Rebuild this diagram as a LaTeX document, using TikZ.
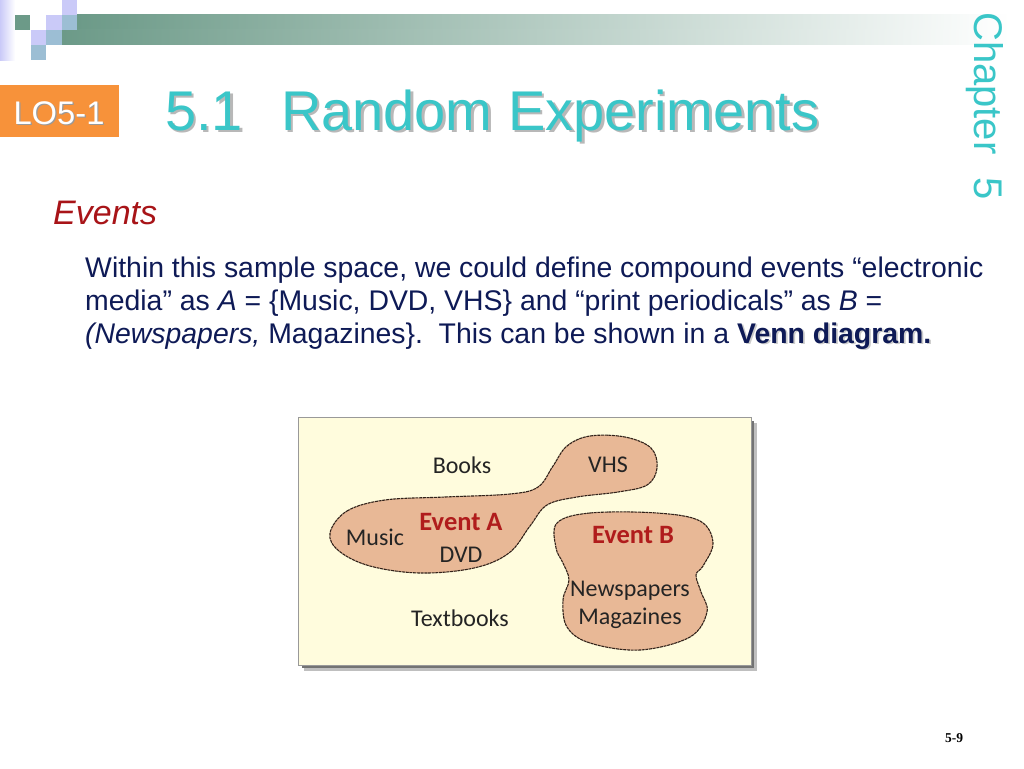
\documentclass[tikz,border=0pt]{standalone}
\usepackage{fontspec}
\setmainfont{Liberation Sans}
\newfontfamily\vennfont{Carlito}
\newfontfamily\pagefont{Liberation Serif}
\usepackage{xcolor}
\usetikzlibrary{positioning}

\definecolor{slideteal}{RGB}{58,198,200}
\definecolor{slidenavy}{RGB}{14,26,86}
\definecolor{slidered}{RGB}{168,20,24}
\definecolor{loorange}{RGB}{247,146,58}
\definecolor{sqgreen}{RGB}{108,154,136}
\definecolor{sqlilac}{RGB}{202,202,248}
\definecolor{sqblue}{RGB}{156,190,212}
\definecolor{venncream}{RGB}{255,252,221}
\definecolor{blobfill}{RGB}{232,184,150}
\definecolor{blobline}{RGB}{50,34,26}
\definecolor{eventred}{RGB}{176,28,28}
\definecolor{labelgray}{RGB}{36,36,36}

\begin{document}
\begin{tikzpicture}[x=1pt, y=-1pt,
  titletext/.style={anchor=base west, inner sep=0pt, font=\fontsize{56}{60}\selectfont},
  bodytext/.style={anchor=base west, inner sep=0pt, text=slidenavy, font=\fontsize{28.4}{33}\selectfont},
  blob/.style={fill=blobfill, draw=blobline, line width=1.1pt, dash pattern=on 3pt off 0.7pt},
  item/.style={inner sep=0pt, text=labelgray, font=\vennfont\fontsize{24}{26}\selectfont},
  eventlabel/.style={inner sep=0pt, text=eventred, font=\vennfont\bfseries\fontsize{26.5}{28}\selectfont}
]
\useasboundingbox (0,0) rectangle (1024,768);
\fill[white] (0,0) rectangle (1024,768);

% corner squares and bar
\shade[left color=sqlilac, right color=white] (0,0) rectangle (15,60);
\shade[left color=sqgreen, right color=white] (77,15) rectangle (1010,30);
\shade[left color=sqgreen, right color=white] (62,30) rectangle (1010,45);
\fill[sqlilac] (62,0) rectangle (77,15);
\fill[sqgreen] (15,15) rectangle (30,30);
\fill[sqlilac] (46,15) rectangle (62,30);
\fill[sqblue] (62,15) rectangle (77,30);
\fill[sqlilac] (31,30) rectangle (46,45);
\fill[sqblue] (46,30) rectangle (62,45);
\fill[sqblue] (31,45) rectangle (46,60);

% header
\node (lobox) [fill=loorange, minimum width=119pt, minimum height=52pt, inner sep=0pt, anchor=north west] at (0,85) {};
\node (loshadow) [anchor=base, inner sep=0pt, text=black!40, font=\fontsize{32.7}{36}\selectfont] at (60.2,125.2) {LO5-1};
\node (lotext) [anchor=base, inner sep=0pt, text=white, font=\fontsize{32.7}{36}\selectfont] at (59,124) {LO5-1};
\node (titleshadow) [titletext, text=black!28] at (167.5,132.5) {5.1\hspace{38pt}Random Experiments};
\node (title) [titletext, text=slideteal] at (165,130) {5.1\hspace{38pt}Random Experiments};
\node (chapter) [anchor=base west, rotate=-90, inner sep=0pt, text=slideteal, font=\fontsize{40}{44}\selectfont] at (974,12) {Chapter\hspace{23pt}5};

% body
\node (events) [anchor=base west, inner sep=0pt, text=slidered, font=\itshape\fontsize{34}{38}\selectfont] at (53,224) {Events};
\node (line1) [bodytext] at (85,277) {Within this sample space, we could define compound events “electronic};
\node (line2) [bodytext] at (85,310) {media” as \textit{A} = \{Music, DVD, VHS\} and “print periodicals” as \textit{B} =};
\node (line3shadow) [bodytext, text=black!20] at (86.8,344.8) {\phantom{\textit{(Newspapers,} Magazines\}.\ \ This can be shown in a }{\bfseries Venn diagram.}};
\node (line3) [bodytext] at (85,343) {\textit{(Newspapers,} Magazines\}.\ \ This can be shown in a {\bfseries Venn diagram.}};

% Venn diagram box
\fill[black!25] (304,423) rectangle (757,671);
\fill[black!55] (302,421) rectangle (754,668);
\filldraw[fill=venncream, draw=black!40, line width=0.8pt] (298,417) rectangle (751,665);

\filldraw[blob] plot[smooth cycle, tension=0.6] coordinates {
  (330,533) (347,511) (385,500) (445,497) (510,494) (538,487) (553,466)
  (567,446) (590,436) (625,437) (651,448) (657,468) (647,485) (618,492)
  (577,497) (547,505) (530,526) (509,553) (474,568) (420,573) (370,566) (339,551)};
\filldraw[blob] plot[smooth cycle, tension=0.6] coordinates {
  (557,523) (590,513) (657,513) (700,521) (713,543) (703,566) (696,575)
  (701,592) (707,612) (690,637) (640,650) (590,643) (567,627) (563,600)
  (569,580) (563,563) (556,548)};

\node (books) [item] at (462,465) {Books};
\node (vhs) [item] at (608,465) {VHS};
\node (eventa) [eventlabel] at (461,522) {Event A};
\node (music) [item] at (375,537) {Music};
\node (dvd) [item] at (461,555) {DVD};
\node (eventb) [eventlabel] at (633,535) {Event B};
\node (newspapers) [item] at (630,591) {Newspapers};
\node (magazines) [item] at (630,618) {Magazines};
\node (textbooks) [item] at (460,618) {Textbooks};

\node (pagenum) [inner sep=0pt, font=\pagefont\bfseries\fontsize{13.5}{15}\selectfont] at (954,738) {5-9};
\end{tikzpicture}
\end{document}
